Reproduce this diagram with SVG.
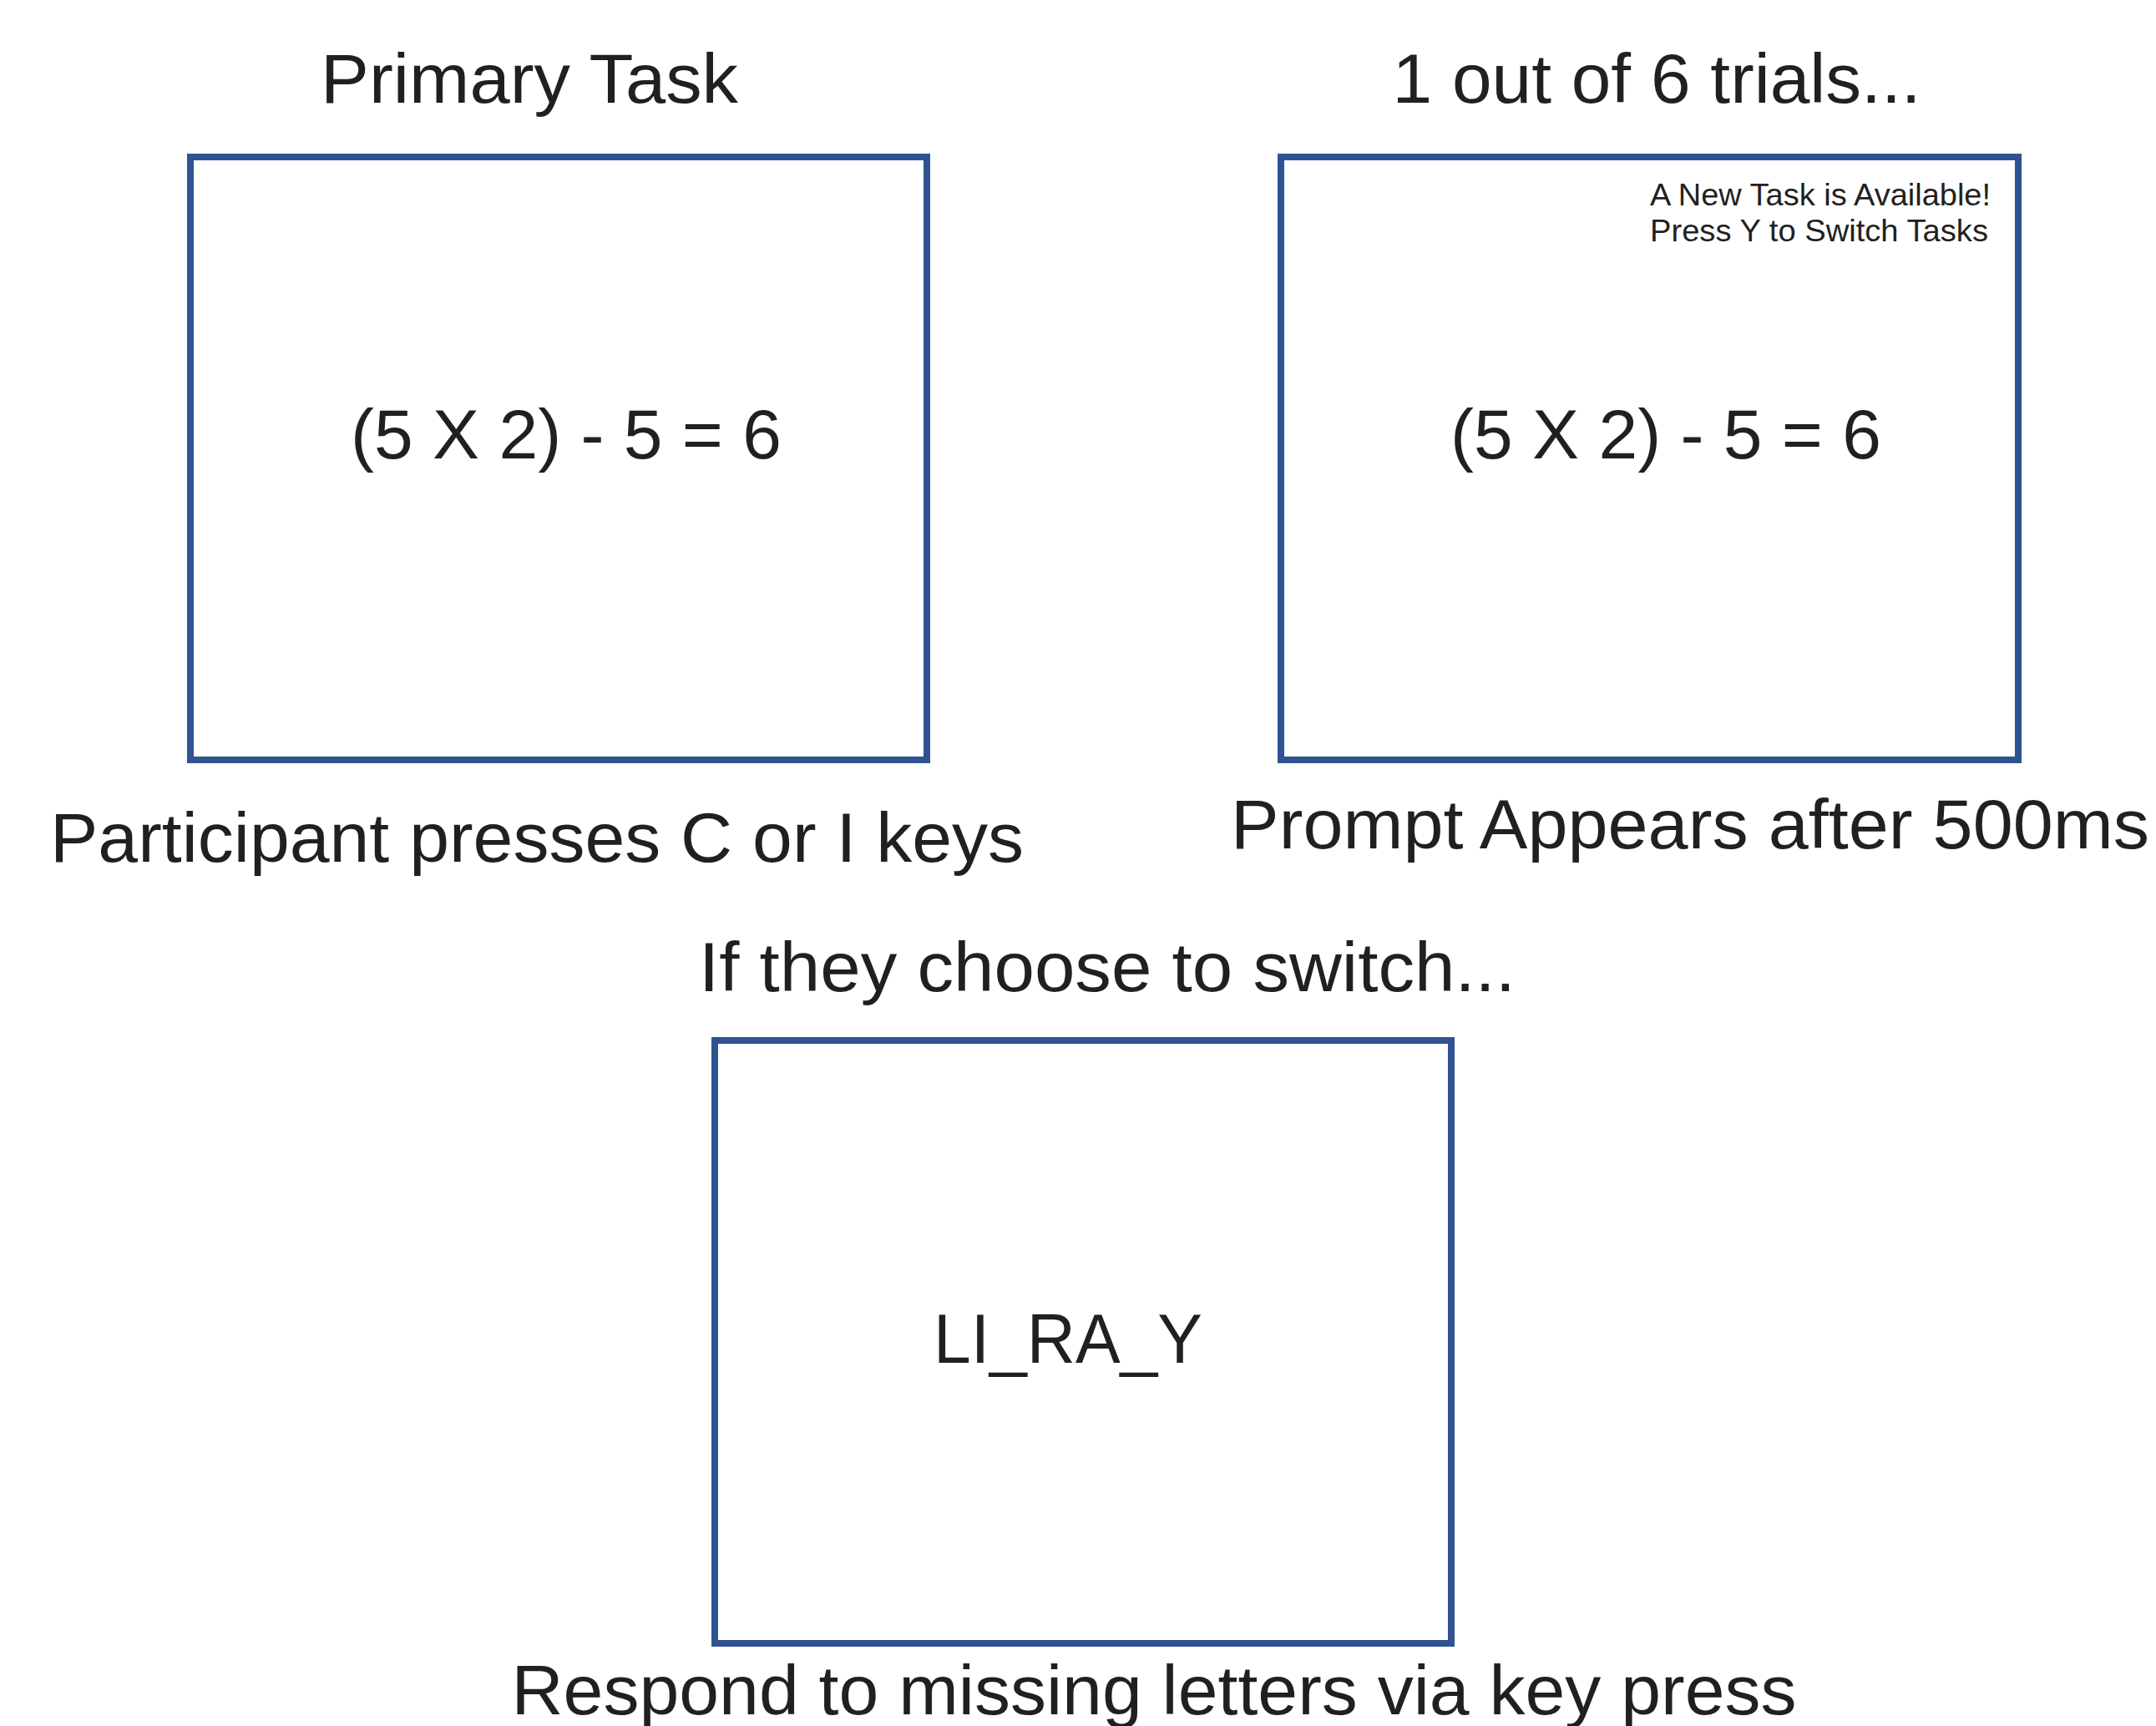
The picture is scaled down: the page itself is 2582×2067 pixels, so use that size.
<svg xmlns="http://www.w3.org/2000/svg" width="2582" height="2067" viewBox="0 0 2582 2067">
<style>
.box{fill:#fff;stroke:#2f5390;stroke-width:8}
.t{font-family:"Liberation Sans",Arial,sans-serif;fill:#231f20;font-size:84px}
.m{text-anchor:middle}
.s{font-size:37px}
</style>
<rect width="2582" height="2067" fill="#fff"/>
<g id="node-primary">
<text class="t m" x="634" y="123" textLength="500" lengthAdjust="spacingAndGlyphs">Primary Task</text>
<rect class="box" x="228" y="188" width="882" height="722"/>
<text class="t m" x="678" y="549">(5 X 2) - 5 = 6</text>
<text class="t m" x="643" y="1032" textLength="1166" lengthAdjust="spacingAndGlyphs">Participant presses C or I keys</text>
</g>
<g id="node-prompt">
<text class="t m" x="1984" y="123" textLength="633" lengthAdjust="spacingAndGlyphs">1 out of 6 trials...</text>
<rect class="box" x="1534" y="188" width="883" height="722"/>
<text class="t s" x="1976" y="246" textLength="408" lengthAdjust="spacingAndGlyphs">A New Task is Available!</text>
<text class="t s" x="1976" y="289" textLength="405" lengthAdjust="spacingAndGlyphs">Press Y to Switch Tasks</text>
<text class="t m" x="1995" y="549">(5 X 2) - 5 = 6</text>
<text class="t m" x="2024" y="1016" textLength="1100" lengthAdjust="spacingAndGlyphs">Prompt Appears after 500ms</text>
</g>
<g id="node-switch">
<text class="t m" x="1326" y="1187" textLength="978" lengthAdjust="spacingAndGlyphs">If they choose to switch...</text>
<rect class="box" x="856" y="1246" width="882" height="722"/>
<text class="t m" x="1279" y="1632" textLength="322" lengthAdjust="spacingAndGlyphs">LI_RA_Y</text>
<text class="t m" x="1382" y="2053" textLength="1539" lengthAdjust="spacingAndGlyphs">Respond to missing letters via key press</text>
</g>
<g id="connectors"></g>
</svg>
